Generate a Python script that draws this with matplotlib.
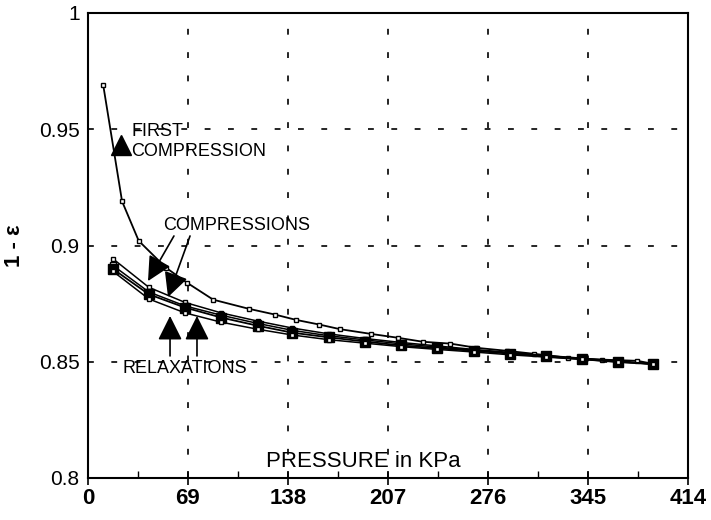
import matplotlib
matplotlib.use("Agg")
import matplotlib.pyplot as plt
from matplotlib.ticker import MultipleLocator, FixedLocator

plt.rcParams['font.family'] = ['Liberation Sans', 'DejaVu Sans']

# First compression curve
first_x = [10.5, 23.5, 35, 53.7, 68.3, 86.4, 110.8, 129, 143.6, 159.6, 174, 195, 214,
           231, 250, 268, 289, 308, 331, 355, 379, 390]
first_y = [0.969, 0.919, 0.902, 0.8905, 0.884, 0.8767, 0.8728, 0.8703, 0.868, 0.866,
           0.864, 0.862, 0.8603, 0.8586, 0.8578, 0.856, 0.8547, 0.8534, 0.8517, 0.8509,
           0.8504, 0.8491]

# Later compressions / relaxations (bundle)
bundle_x = [17, 42, 67, 92, 117, 141, 166, 191, 216, 241, 266, 291, 316, 341, 366, 390]
comp2_y = [0.8944, 0.882, 0.8755, 0.871, 0.8675, 0.8645, 0.862, 0.860, 0.8583, 0.8568,
           0.8553, 0.854, 0.8527, 0.8515, 0.8503, 0.849]
comp3_y = [0.8915, 0.880, 0.874, 0.870, 0.8665, 0.8635, 0.8612, 0.8594, 0.8577, 0.8563,
           0.855, 0.8538, 0.8525, 0.8513, 0.8501, 0.849]
relax1_y = [0.890, 0.879, 0.8733, 0.869, 0.8655, 0.8625, 0.8605, 0.8587, 0.857, 0.8558,
            0.8547, 0.8535, 0.8523, 0.8511, 0.850, 0.849]
relax2_y = [0.889, 0.877, 0.871, 0.867, 0.864, 0.8615, 0.8595, 0.858, 0.8565, 0.8553,
            0.8542, 0.853, 0.852, 0.851, 0.8498, 0.849]

x_ticks = [0, 69, 138, 207, 276, 345, 414]
y_ticks = [0.8, 0.85, 0.9, 0.95, 1.0]
y_tick_labels = ['0.8', '0.85', '0.9', '0.95', '1']

fig = plt.figure(figsize=(7.11, 5.20), dpi=100)
ax = fig.add_axes([88/711, 1-478/520, 600/711, 465/520])

ax.plot(first_x, first_y, color='black', lw=1.3, marker='s', ms=3.5,
        mfc='white', mec='black', mew=1.0)
ax.plot(bundle_x, comp2_y, color='black', lw=1.1, marker='s', ms=3.5,
        mfc='white', mec='black', mew=1.0)
ax.plot(bundle_x, comp3_y, color='black', lw=1.1, marker='s', ms=4,
        mfc='white', mec='black', mew=1.0)
ax.plot(bundle_x, relax1_y, color='black', lw=1.3, marker='s', ms=6.5,
        mfc='black', mec='black')
ax.plot(bundle_x, relax2_y, color='black', lw=1.1, marker='s', ms=3.5,
        mfc='white', mec='black', mew=1.0)

ax.set_xlim(0, 414)
ax.set_ylim(0.8, 1.0)
ax.xaxis.set_major_locator(FixedLocator(x_ticks))
ax.xaxis.set_minor_locator(MultipleLocator(34.5))
ax.set_xticklabels([str(t) for t in x_ticks])
ax.yaxis.set_major_locator(FixedLocator(y_ticks))
ax.set_yticklabels(y_tick_labels)

ax.tick_params(axis='x', which='major', direction='inout', length=10, width=1.2,
               labelsize=16, pad=2)
ax.tick_params(axis='x', which='minor', direction='in', length=5, width=1.0)
ax.tick_params(axis='y', which='major', direction='in', length=0, labelsize=15, pad=6)
for lbl in ax.get_xticklabels():
    lbl.set_fontweight('bold')

ax.grid(True, which='major', color='black', lw=1.2, linestyle=(0, (3.5, 10.5)))

for s in ax.spines.values():
    s.set_linewidth(1.5)

ax.set_ylabel('1 - ε', fontsize=16, fontweight='bold', labelpad=10)

# annotations
ax.text(29.7, 0.9490, 'FIRST', fontsize=13, va='center', ha='left')
ax.text(29.7, 0.9404, 'COMPRESSION', fontsize=13, va='center', ha='left')
ax.plot([22.8], [0.9432], marker='^', ms=15, color='black', ls='none')

ax.text(51.75, 0.9088, 'COMPRESSIONS', fontsize=13, va='center', ha='left')
astyle = '-|>,head_length=1.0,head_width=0.5'
ax.annotate('', xy=(41.4, 0.8847), xytext=(59.3, 0.9041),
            arrowprops=dict(arrowstyle=astyle, mutation_scale=15, color='black', lw=1.2,
                            shrinkA=0, shrinkB=0))
ax.annotate('', xy=(55.2, 0.8778), xytext=(70.4, 0.9041),
            arrowprops=dict(arrowstyle=astyle, mutation_scale=15, color='black', lw=1.2,
                            shrinkA=0, shrinkB=0))

ax.text(23.5, 0.8473, 'RELAXATIONS', fontsize=13, va='center', ha='left')
ax.annotate('', xy=(56.6, 0.8697), xytext=(56.6, 0.8525),
            arrowprops=dict(arrowstyle=astyle, mutation_scale=15, color='black', lw=1.2,
                            shrinkA=0, shrinkB=0))
ax.annotate('', xy=(75.2, 0.8697), xytext=(75.2, 0.8525),
            arrowprops=dict(arrowstyle=astyle, mutation_scale=15, color='black', lw=1.2,
                            shrinkA=0, shrinkB=0))

ax.text(190, 0.8069, 'PRESSURE in KPa', fontsize=16, va='center', ha='center')

fig.savefig('out.png', dpi=100)
